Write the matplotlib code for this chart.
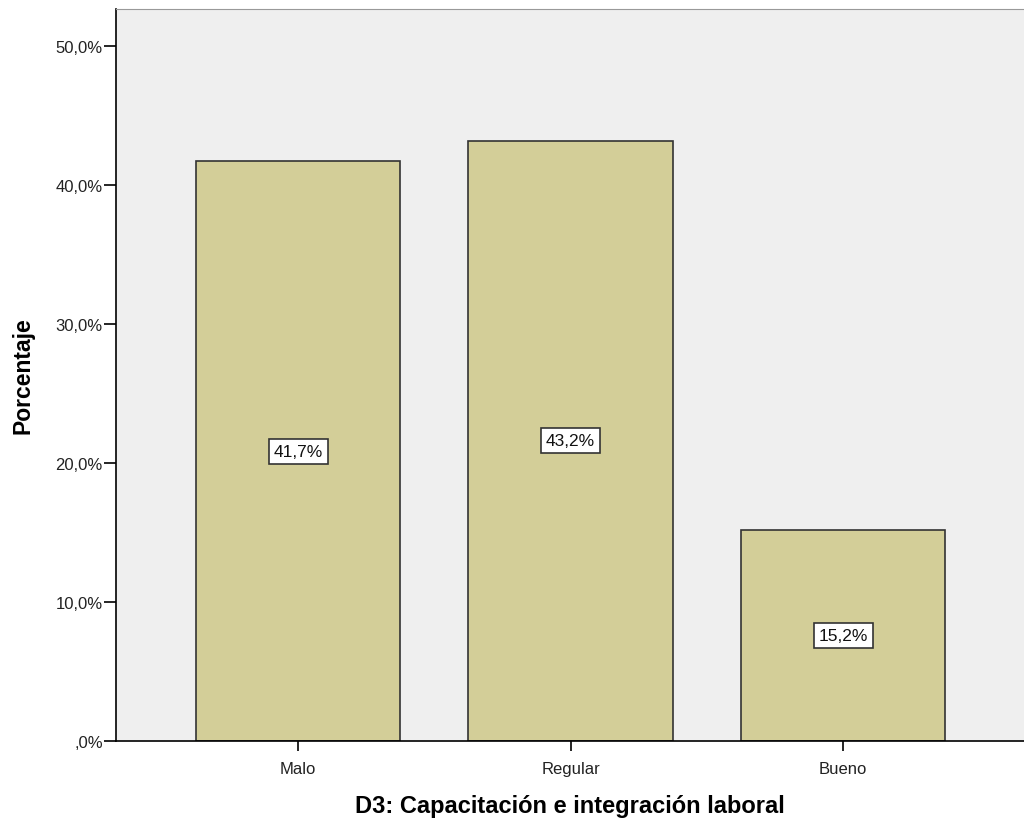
import matplotlib
matplotlib.use("Agg")
import matplotlib.pyplot as plt
from matplotlib.ticker import FuncFormatter

plt.rcParams['font.family'] = ['Liberation Sans', 'DejaVu Sans']

categorias = ['Malo', 'Regular', 'Bueno']
porcentajes = [41.7, 43.2, 15.2]
etiquetas = ['41,7%', '43,2%', '15,2%']

fig = plt.figure(figsize=(10.24, 8.2), dpi=100)
ax = fig.add_axes([0.1133, 0.0951, 0.8867, 0.8927])
ax.set_facecolor('#efefef')

x = list(range(len(categorias)))
ax.bar(x, porcentajes, width=0.75, color='#d3ce98', edgecolor='#333333', linewidth=1.2, zorder=2)

for xi, v, t in zip(x, porcentajes, etiquetas):
    ax.text(xi, v / 2, t, ha='center', va='center', fontsize=12.5, color='#111111', zorder=3,
            bbox=dict(boxstyle='square,pad=0.28', facecolor='white', edgecolor='#333333', linewidth=1.2))

ax.set_xlim(-0.668, 2.664)
ax.set_ylim(0, 52.66)
ax.set_yticks([0, 10, 20, 30, 40, 50])
ax.yaxis.set_major_formatter(FuncFormatter(lambda v, p: ',0%' if v == 0 else f'{v:.1f}%'.replace('.', ',')))
ax.set_xticks(x)
ax.set_xticklabels(categorias)

ax.spines['right'].set_visible(False)
ax.spines['top'].set_color('#999999')
ax.spines['left'].set_color('black')
ax.spines['bottom'].set_color('black')
ax.spines['left'].set_linewidth(1.2)
ax.spines['bottom'].set_linewidth(1.2)
ax.tick_params(axis='y', length=8.5, width=1.2, labelsize=12, pad=1, colors='black', labelcolor='#222222')
ax.tick_params(axis='x', length=7.2, width=1.2, labelsize=12, pad=7, colors='black', labelcolor='#222222')

ax.set_ylabel('Porcentaje', fontsize=16.5, fontweight='bold', labelpad=15)
ax.set_xlabel('D3: Capacitación e integración laboral', fontsize=17, fontweight='bold', labelpad=13)

fig.savefig('out.png', dpi=100)
